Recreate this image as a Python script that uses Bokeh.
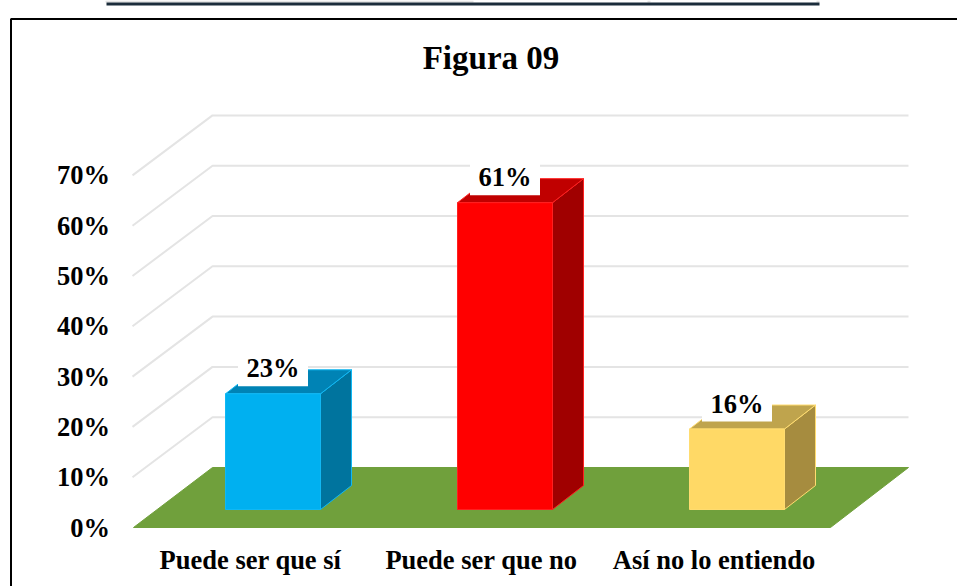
from bokeh.plotting import figure
from bokeh.embed import file_html
from bokeh.resources import INLINE
from bokeh.core.properties import value
from bokeh.models import LinearAxis, FixedTicker, NumeralTickFormatter, Range1d, BoxAnnotation

categories = ["Puede ser que sí", "Puede ser que no", "Así no lo entiendo"]
values = [0.23, 0.61, 0.16]
value_labels = ["23%", "61%", "16%"]
y_ticks = [0.0, 0.1, 0.2, 0.3, 0.4, 0.5, 0.6, 0.7]
title_text = "Figura 09"

front_colors = ["#00b0f0", "#ff0000", "#ffd966"]
side_colors = ["#00749e", "#a00000", "#a68c3f"]
top_colors = ["#0083b5", "#c00000", "#bfa44d"]
edge_colors = ["#10b8f4", "#ff2020", "#ffdc70"]

FONT = value("Liberation Serif")
W, H = 957, 586
X_UNIT = 232.0      # pixels between categories
X_ZERO = 272.5      # pixel of the first category
Y_UNIT = 503.0      # pixels for 100 %
Y_ZERO = 527.0      # pixel of 0 % on the front edge


def dx(px):
    return px / X_UNIT


def dy(px):
    return px / Y_UNIT


def xp(px):
    return (px - X_ZERO) / X_UNIT


def yp(px):
    return (Y_ZERO - px) / Y_UNIT


p = figure(width=W, height=H, output_backend="svg", toolbar_location=None,
           x_range=Range1d(xp(0), xp(W)), y_range=Range1d(yp(H), yp(0)),
           min_border=0, min_border_left=0, min_border_right=0,
           min_border_top=0, min_border_bottom=0,
           x_axis_location=None, y_axis_location=None,
           background_fill_color="white", border_fill_color="white")
p.margin = (0, 0, 0, 0)
p.outline_line_color = None
p.grid.visible = False


def screen_box(left, right, top, bottom, **kw):
    # screen units on this canvas count upward from the bottom edge
    return BoxAnnotation(left=left, right=right, top=H - top, bottom=H - bottom,
                         left_units="screen", right_units="screen",
                         top_units="screen", bottom_units="screen", **kw)


# page furniture
p.add_layout(screen_box(10.5, W + 20, 18.5, H + 20, fill_alpha=0,
                        line_color="#000000", line_alpha=1, line_width=2))
p.add_layout(screen_box(105, 473, 0, 2, fill_color="#e4e4e4", fill_alpha=1, line_alpha=0))
p.add_layout(screen_box(647, 650, 0, 2, fill_color="#e4e4e4", fill_alpha=1, line_alpha=0))
p.add_layout(screen_box(816, 819, 0, 2, fill_color="#e4e4e4", fill_alpha=1, line_alpha=0))
p.add_layout(screen_box(106, 819, 2, 5, fill_color="#1b2c3b", fill_alpha=1, line_alpha=0))

# walls
WALL = dy(60)
left_front = xp(132)
left_back = xp(212)
right_back = xp(908)
grid_vals = y_ticks[1:]
p.multi_line(xs=[[left_front, left_back, right_back] for _ in grid_vals],
             ys=[[v, v + WALL, v + WALL] for v in grid_vals],
             line_color="#e4e4e4", line_width=2)

# floor
p.patch(x=[xp(133), left_back, right_back, xp(830)],
        y=[0, WALL, WALL, 0], fill_color="#70a03c", line_color="#70a03c", line_width=1)

# bars
BASE = dy(18)
BAR_W = dx(95)
DEPTH_X = dx(31)
DEPTH_Y = dy(24)
for i, v in enumerate(values):
    l, r = i - BAR_W / 2, i + BAR_W / 2
    b, t = BASE, BASE + v
    p.patch(x=[r, r + DEPTH_X, r + DEPTH_X, r], y=[b, b + DEPTH_Y, t + DEPTH_Y, t],
            fill_color=side_colors[i], line_color=edge_colors[i], line_width=1)
    p.patch(x=[l, l + DEPTH_X, r + DEPTH_X, r], y=[t, t + DEPTH_Y, t + DEPTH_Y, t],
            fill_color=top_colors[i], line_color=edge_colors[i], line_width=1)
    p.patch(x=[l, r, r, l], y=[b, b, t, t],
            fill_color=front_colors[i], line_color=edge_colors[i], line_width=1)

# value labels
BOX_W = dx(70)
BOX_GAP = dy(7.5)
BOX_H = dy(35)
xs = list(range(len(values)))
p.quad(left=[x - BOX_W / 2 for x in xs], right=[x + BOX_W / 2 for x in xs],
       bottom=[BASE + v + BOX_GAP for v in values],
       top=[BASE + v + BOX_GAP + BOX_H for v in values],
       fill_color="white", line_color=None)
p.text(x=xs, y=[BASE + v + BOX_GAP + dy(18) for v in values], text=value_labels,
       text_font=FONT, text_font_style="bold", text_font_size="26.5px",
       text_color="#000000", text_align="center", text_baseline="middle")

# title
p.text(x=[xp(490.5)], y=[yp(57)], text=[title_text],
       text_font=FONT, text_font_style="bold", text_font_size="33px",
       text_color="#000000", text_align="center", text_baseline="middle")

# axes, drawn inside the full-page frame
y_axis = LinearAxis(ticker=FixedTicker(ticks=y_ticks),
                    formatter=NumeralTickFormatter(format="0%"),
                    fixed_location=xp(119.5))
x_label_pos = [xp(250), xp(481), xp(713.5)]
x_axis = LinearAxis(ticker=FixedTicker(ticks=x_label_pos),
                    major_label_overrides=dict(zip(x_label_pos, categories)),
                    fixed_location=yp(534))
for ax in (x_axis, y_axis):
    ax.axis_line_color = None
    ax.major_tick_line_color = None
    ax.minor_tick_line_color = None
    ax.major_label_text_font = "Liberation Serif"
    ax.major_label_text_font_style = "bold"
    ax.major_label_text_font_size = "26.5px"
    ax.major_label_text_color = "#000000"
    ax.major_label_standoff = 4
p.add_layout(y_axis, "left")
p.add_layout(x_axis, "below")

open("out.html", "w").write(file_html(p, INLINE))
